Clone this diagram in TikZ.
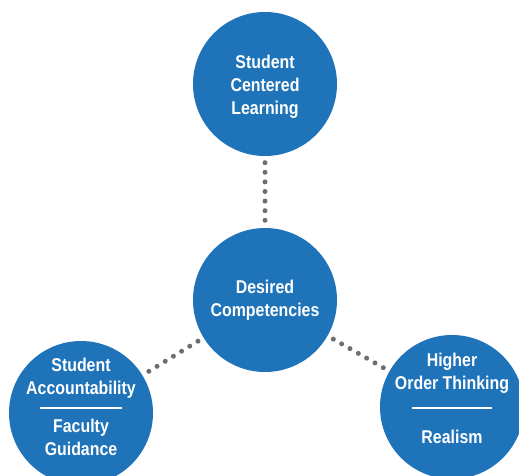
\documentclass[tikz,border=0pt]{standalone}
\usepackage{fontspec}
\newfontfamily\cond{Liberation Sans}[FakeStretch=0.86]
\usetikzlibrary{calc}
\definecolor{cblue}{RGB}{30,115,185}
\definecolor{dotgray}{RGB}{110,110,113}
\tikzset{
  bubble/.style={circle,fill=cblue,minimum size=144pt,inner sep=0pt},
  txt/.style={text=white,align=center,inner sep=0pt,font=\cond\bfseries\fontsize{18.5}{23}\selectfont},
  dots/.style={draw=dotgray,line width=5pt,line cap=round,dash pattern=on 0pt off 9.6pt,shorten >=6.5pt,shorten <=6.5pt},
  divider/.style={draw=white,line width=1.2pt}
}
\begin{document}
\begin{tikzpicture}[x=1pt,y=-1pt]
\useasboundingbox (0,0) rectangle (519,476);
\clip (0,0) rectangle (519,476);
\node[bubble] (top) at (265,84) {};
\node[bubble] (mid) at (265,300) {};
\node[bubble] (bl) at (81,413) {};
\node[bubble] (br) at (452,407) {};
\draw[dots] (top) -- (mid);
\draw[dots] (mid) -- (bl);
\draw[dots] (mid) -- (br);
\node[txt] (toptxt) at ($(top)+(0,3)$) {Student\\Centered\\Learning};
\node[txt] (midtxt) at (mid) {Desired\\Competencies};
\node[txt] (bltxt1) at ($(bl)+(0,-34.5)$) {Student\\Accountability};
\node[txt] (bltxt2) at ($(bl)+(0,24.5)$) {Faculty\\Guidance};
\node[txt] (brtxt1) at ($(br)+(0,-33.5)$) {Higher\\Order Thinking};
\node[txt] (brtxt2) at ($(br)+(0,30)$) {Realism};
\coordinate (bll) at ($(bl)+(-41,-5)$);
\coordinate (blr) at ($(bl)+(41,-5)$);
\draw[divider] (bll) -- (blr);
\coordinate (brl) at ($(br)+(-40,1)$);
\coordinate (brr) at ($(br)+(40,1)$);
\draw[divider] (brl) -- (brr);
\end{tikzpicture}
\end{document}
